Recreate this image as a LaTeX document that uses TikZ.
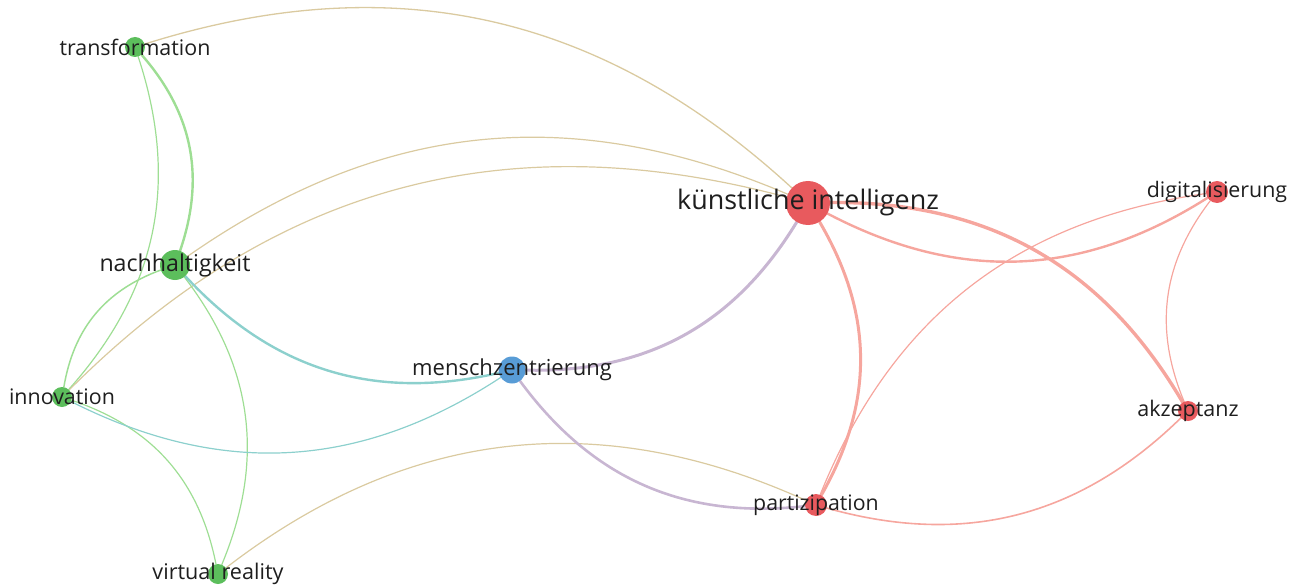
\documentclass[tikz,border=0pt]{standalone}
\usepackage{fontspec}
\setmainfont{Open Sans}
\usetikzlibrary{positioning}
\pgfdeclarelayer{bg}
\pgfsetlayers{bg,main}

% cluster colours
\definecolor{kwgreen}{RGB}{92,190,92}
\definecolor{kwred}{RGB}{232,90,94}
\definecolor{kwblue}{RGB}{88,156,214}
\definecolor{lkgreen}{RGB}{158,222,148}
\definecolor{lkred}{RGB}{246,166,158}
\definecolor{lkgr}{RGB}{218,202,160}
\definecolor{lkgb}{RGB}{140,208,205}
\definecolor{lkbr}{RGB}{200,182,210}
\definecolor{txt}{RGB}{30,30,30}

\begin{document}
\begin{tikzpicture}[x=1pt, y=-1pt,
    kw/.style={circle, inner sep=0pt, minimum size=#1},
    grn/.style={kw=#1, fill=kwgreen},
    red/.style={kw=#1, fill=kwred},
    blu/.style={kw=#1, fill=kwblue},
    lbl/.style={font=\fontsize{#1}{#1}\selectfont, text=txt, inner sep=0pt},
    lnk/.style={line width=#1, line cap=round}
  ]
  \useasboundingbox (0,0) rectangle (1303,588);

  % keywords
  \node[grn=20pt, label={[lbl=21.4]center:transformation}] (trans) at (135,47) {};
  \node[grn=30pt, label={[lbl=23.2]center:nachhaltigkeit}] (nach) at (175,265) {};
  \node[grn=20pt, label={[lbl=21.4]center:innovation}] (inno) at (62,397) {};
  \node[grn=20pt, label={[lbl=21.6]center:virtual reality}] (vr) at (218,574) {};
  \node[blu=27pt, label={[lbl=22]center:menschzentrierung}] (mensch) at (512,370) {};
  \node[red=44pt, label={[lbl=26.9]center:künstliche intelligenz}] (ki) at (808,203) {};
  \node[red=22pt, label={[lbl=21.4]center:digitalisierung}] (digi) at (1217,192) {};
  \node[red=20pt, label={[lbl=21.5]center:akzeptanz}] (akz) at (1188,411) {};
  \node[red=22pt, label={[lbl=21.3]center:partizipation}] (part) at (816,505) {};

  % links
  \begin{pgfonlayer}{bg}
    \draw[lnk=1.3pt, lkgr] (trans) to[bend left=30] (ki);
    \draw[lnk=2.4pt, lkgreen] (trans) to[bend left=30] (nach);
    \draw[lnk=1.2pt, lkgreen] (trans) to[bend left=30] (inno);
    \draw[lnk=1.2pt, lkgr] (nach) to[bend left=29] (ki);
    \draw[lnk=1.2pt, lkgr] (inno) to[bend left=30] (ki);
    \draw[lnk=1.5pt, lkgreen] (inno) to[bend left=30] (nach);
    \draw[lnk=1.2pt, lkgreen] (inno) to[bend left=30] (vr);
    \draw[lnk=1.2pt, lkgreen] (nach) to[bend left=30] (vr);
    \draw[lnk=2.4pt, lkgb] (nach) to[bend right=30] (mensch);
    \draw[lnk=1.2pt, lkgb] (inno) to[bend right=30] (mensch);
    \draw[lnk=1.2pt, lkgr] (vr) to[bend left=31] (part);
    \draw[lnk=3pt, lkbr] (mensch) to[bend right=30] (ki);
    \draw[lnk=2.6pt, lkbr] (mensch) to[bend right=30] (part);
    \draw[lnk=3pt, lkred] (ki) to[bend left=30] (part);
    \draw[lnk=2.4pt, lkred] (ki) to[bend right=30] (digi);
    \draw[lnk=3.4pt, lkred] (ki) to[bend left=30] (akz);
    \draw[lnk=1.2pt, lkred] (part) to[bend left=30] (digi);
    \draw[lnk=1.2pt, lkred] (digi) to[bend right=30] (akz);
    \draw[lnk=1.6pt, lkred] (part) to[bend right=30] (akz);
  \end{pgfonlayer}
\end{tikzpicture}
\end{document}
